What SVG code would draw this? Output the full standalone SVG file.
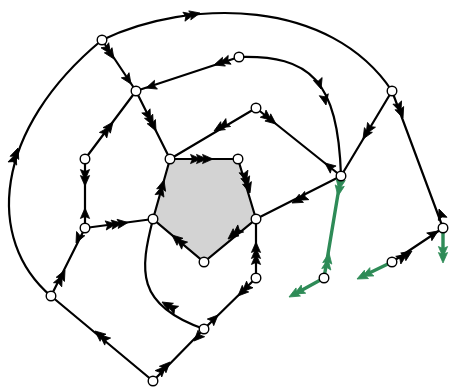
<svg xmlns="http://www.w3.org/2000/svg" width="449" height="387" viewBox="0 0 449 387">
<style>
.e{fill:none;stroke:#000;stroke-width:2.2}
.gr{fill:none;stroke:#2e8b57;stroke-width:3.4}
.k{color:#000}
.g{color:#2e8b57}
.n{fill:#fff;stroke:#000;stroke-width:1.4}
</style>
<defs>
<path id="h1" d="M0,0 L-10.5,-4.6 L-8.5,0 L-10.5,4.6 Z" fill="currentColor" stroke="currentColor" stroke-width="0.8" stroke-linejoin="round"/>
<g id="h2"><use href="#h1"/><use href="#h1" x="-6"/></g>
<g id="h3"><use href="#h1"/><use href="#h1" x="-6"/><use href="#h1" x="-12"/></g>
</defs>
<polygon id="face" points="170,159 238,159 256,219 204,262 153,219" fill="#d3d3d3"/>
<g id="connectors">
<path class="e" d="M102,40 C190,-2 330,-2 392,91"/>
<path class="e" d="M239,57 C310,55 338,80 341,176"/>
<path class="e" d="M51,296 C-15,240 -7,130 102,40"/>
<path class="e" d="M153,219 C140,270 135,305 204,329"/>
<path class="e" d="M102,40 L136,91 M136,91 L239,57 M136,91 L170,159 M136,91 L85,159 M85,159 L85,228 M85,228 L153,219 M51,296 L85,228 M153,381 L51,296 M153,381 L204,329 M204,329 L256,278 M256,278 L256,219 M170,159 L238,159 L256,219 L204,262 L153,219 Z M256,108 L170,159 M256,108 L341,176 M392,91 L341,176 M392,91 L443,228 M392,262 L443,228 M341,176 L256,219"/>
<path class="gr" d="M341,176 L324,278 M324,278 L293,295 M392,262 L361,277 M443,228 L443,259"/>
<g class="k">
<use href="#h2" transform="translate(200,13) rotate(-13)"/>
<use href="#h1" transform="translate(321,89) rotate(72)"/>
<use href="#h1" transform="translate(326,105) rotate(78)"/>
<use href="#h2" transform="translate(18,148) rotate(-70)"/>
<use href="#h2" transform="translate(162,302) rotate(-150)"/>
<use href="#h2" transform="translate(114,59) rotate(56.3)"/>
<use href="#h1" transform="translate(131,84) rotate(56.3)"/>
<use href="#h2" transform="translate(214,65) rotate(161.7)"/>
<use href="#h1" transform="translate(146,88) rotate(161.7)"/>
<use href="#h3" transform="translate(156,131) rotate(63.4)"/>
<use href="#h2" transform="translate(113,122) rotate(-53.1)"/>
<use href="#h2" transform="translate(85,186) rotate(90)"/>
<use href="#h1" transform="translate(85,208) rotate(-90)"/>
<use href="#h3" transform="translate(128,222.5) rotate(-7.5)"/>
<use href="#h2" transform="translate(65,270) rotate(-63.4)"/>
<use href="#h1" transform="translate(76,243) rotate(116.6)"/>
<use href="#h2" transform="translate(95,331) rotate(-140.2)"/>
<use href="#h2" transform="translate(170,362) rotate(-45.6)"/>
<use href="#h1" transform="translate(194,341) rotate(134.4)"/>
<use href="#h1" transform="translate(218,315) rotate(-44.4)"/>
<use href="#h2" transform="translate(238,296) rotate(135.6)"/>
<use href="#h3" transform="translate(256,242) rotate(-90)"/>
<use href="#h2" transform="translate(228,239) rotate(140.4)"/>
<use href="#h2" transform="translate(172,235) rotate(-139.9)"/>
<use href="#h2" transform="translate(164,180) rotate(-74.2)"/>
<use href="#h3" transform="translate(213,159)"/>
<use href="#h3" transform="translate(250,193) rotate(73.3)"/>
<use href="#h2" transform="translate(214,131) rotate(149.3)"/>
<use href="#h2" transform="translate(276,124) rotate(38.7)"/>
<use href="#h1" transform="translate(325,163) rotate(-141.3)"/>
<use href="#h2" transform="translate(363,139) rotate(121)"/>
<use href="#h2" transform="translate(403,118) rotate(69.6)"/>
<use href="#h1" transform="translate(439,209) rotate(-110.4)"/>
<use href="#h2" transform="translate(412,251) rotate(-33.7)"/>
<use href="#h1" transform="translate(438,231) rotate(-33.7)"/>
<use href="#h2" transform="translate(292,203) rotate(153.2)"/>
</g>
<g class="g">
<use href="#h2" transform="translate(338,196) rotate(99.5)"/>
<use href="#h2" transform="translate(329,253) rotate(-80.5)"/>
<use href="#h2" transform="translate(289,297) rotate(151.5)"/>
<use href="#h2" transform="translate(357,279) rotate(154)"/>
<use href="#h2" transform="translate(443,263) rotate(90)"/>
</g>
</g>
<g id="nA"><circle class="n" cx="102" cy="40" r="4.8"/></g>
<g id="nB"><circle class="n" cx="136" cy="91" r="4.8"/></g>
<g id="nC"><circle class="n" cx="239" cy="57" r="4.8"/></g>
<g id="nD"><circle class="n" cx="256" cy="108" r="4.8"/></g>
<g id="nE"><circle class="n" cx="392" cy="91" r="4.8"/></g>
<g id="nF"><circle class="n" cx="85" cy="159" r="4.8"/></g>
<g id="nG"><circle class="n" cx="170" cy="159" r="4.8"/></g>
<g id="nH"><circle class="n" cx="238" cy="159" r="4.8"/></g>
<g id="nI"><circle class="n" cx="341" cy="176" r="4.8"/></g>
<g id="nJ"><circle class="n" cx="153" cy="219" r="4.8"/></g>
<g id="nK"><circle class="n" cx="256" cy="219" r="4.8"/></g>
<g id="nL"><circle class="n" cx="85" cy="228" r="4.8"/></g>
<g id="nM"><circle class="n" cx="204" cy="262" r="4.8"/></g>
<g id="nN"><circle class="n" cx="256" cy="278" r="4.8"/></g>
<g id="nO"><circle class="n" cx="324" cy="278" r="4.8"/></g>
<g id="nP"><circle class="n" cx="392" cy="262" r="4.8"/></g>
<g id="nQ"><circle class="n" cx="443" cy="228" r="4.8"/></g>
<g id="nR"><circle class="n" cx="51" cy="296" r="4.8"/></g>
<g id="nS"><circle class="n" cx="204" cy="329" r="4.8"/></g>
<g id="nT"><circle class="n" cx="153" cy="381" r="4.8"/></g>
</svg>
